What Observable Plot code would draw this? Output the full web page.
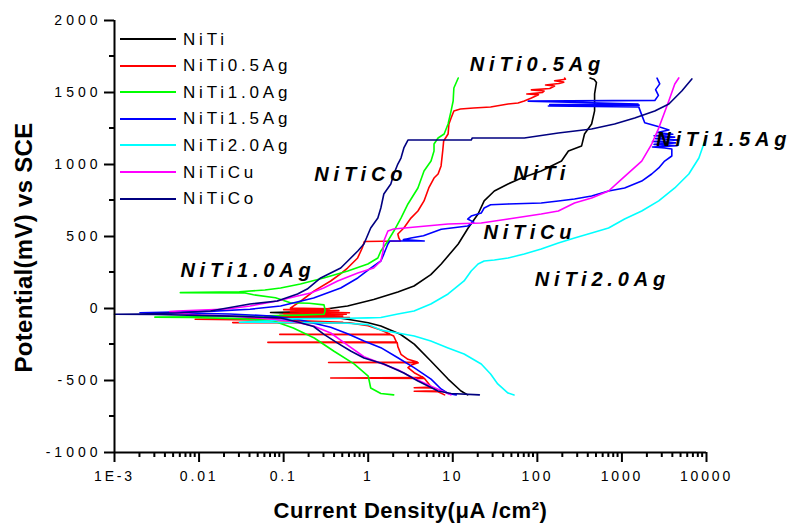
<!DOCTYPE html>
<html>
<head>
<meta charset="utf-8">
<script src="https://cdn.jsdelivr.net/npm/d3@7"></script>
<script src="https://cdn.jsdelivr.net/npm/@observablehq/plot@0.6"></script>
<style>
  html, body { margin: 0; padding: 0; background: #fff; }
  #chart { position: relative; width: 792px; height: 526px; font-family: "Liberation Sans", Arial, sans-serif; }
  #legend { position: absolute; left: 120px; top: 26px; }
  #legend .row { display: flex; align-items: center; height: 26.55px; }
  #legend .sw { width: 56px; height: 2px; margin-right: 7px; }
  #legend .lab { font-size: 17px; letter-spacing: 3.8px; color: #000; line-height: 1; }
</style>
</head>
<body>
<div id="chart"></div>
<script>
// Potentiodynamic polarization curves: [current density (µA/cm²), potential (mV vs SCE)]
// listed in scan order, from -600 mV upward.
const niti = [[15,-600],[12.5,-573],[8.8,-490],[5.5,-365],[3.5,-247],[2.4,-179],[1.41,-122],[1.0,-99],[0.57,-75],[0.3,-50],[0.15,-35],[0.07,-28],[0.12,-25],[0.2,-20],[0.3,-5],[0.57,17],[1.16,62],[2.24,115],[3.48,156],[5.5,235],[7.3,309],[11.6,448],[15.2,559],[19.9,656],[23.5,747],[31,816],[45,865],[65,906],[111,955],[193,1024],[233,1094],[333,1128],[361,1212],[438,1281],[475,1372],[475,1490],[500,1570],[470,1590],[420,1600]];

const niti05Ag = [[8,-600],[6.7,-578],[3.5,-575],[6.5,-572],[5.9,-552],[3.5,-550],[5.6,-546],[5.3,-530],[4.6,-485],[0.36,-483],[4.5,-480],[3.5,-446],[2.95,-411],[3.3,-390],[3.9,-377],[0.34,-375],[3.8,-372],[2.95,-353],[2.44,-318],[2.24,-265],[2.2,-237],[0.065,-235],[2.15,-232],[2.0,-191],[1.85,-182],[0.09,-180],[1.8,-177],[1.41,-150],[1.0,-120],[0.6,-100],[0.025,-98],[0.5,-96],[0.2,-88],[0.05,-80],[0.009,-75],[0.03,-70],[0.1,-66],[0.6,-62],[0.06,-58],[0.5,-52],[0.09,-48],[0.55,-40],[0.1,-35],[0.6,-30],[0.12,-22],[0.45,-15],[0.1,-8],[0.35,-2],[0.12,3],[0.16,52],[0.23,122],[0.36,191],[0.47,240],[0.57,281],[0.75,351],[0.85,420],[0.9,465],[2.4,469],[2.3,490],[2.24,517],[2.64,559],[3.2,628],[3.87,677],[4.57,747],[5.2,837],[6.0,906],[6.7,934],[7.27,990],[7.6,1094],[7.8,1163],[8.8,1212],[9.0,1281],[9.55,1323],[10.3,1372],[12.3,1385],[17.6,1392],[28,1399],[45,1420],[59,1427],[70,1441],[85,1462],[103,1485],[75,1490],[115,1500],[120,1510],[85,1518],[140,1528],[160,1545],[125,1552],[180,1562],[205,1572],[160,1582],[215,1592],[210,1600]];

const niti10Ag = [[2.0,-600],[1.41,-590],[1.07,-552],[1.0,-469],[0.68,-385],[0.39,-295],[0.23,-205],[0.13,-135],[0.076,-87],[0.03,-70],[0.008,-62],[0.003,-60],[0.01,-57],[0.05,-52],[0.15,-46],[0.3,-40],[0.31,-15],[0.3,25],[0.2,36],[0.12,40],[0.08,75],[0.044,95],[0.035,108],[0.006,110],[0.03,116],[0.06,128],[0.092,142],[0.158,170],[0.297,212],[0.573,260],[0.99,309],[1.3,351],[1.41,399],[1.71,469],[2.01,538],[2.44,628],[2.95,726],[3.87,837],[4.57,955],[5.53,1024],[6.0,1094],[6.0,1142],[6.7,1184],[7.9,1212],[8.8,1281],[9.55,1372],[10.1,1441],[10.3,1531],[11.6,1601]];

const niti15Ag = [[11,-600],[8.8,-590],[7.27,-559],[5.53,-490],[3.48,-411],[2.24,-342],[1.41,-272],[0.89,-226],[0.57,-175],[0.36,-130],[0.158,-80],[0.07,-52],[0.023,-38],[0.006,-31],[0.002,-30],[0.005,-25],[0.015,-18],[0.04,-5],[0.092,17],[0.226,73],[0.473,142],[0.753,212],[1.07,281],[1.41,330],[1.53,378],[1.71,448],[1.8,469],[4.6,469],[2.6,478],[3.2,490],[4.5,505],[7.3,550],[15,573],[17.7,600],[15,621],[16.5,642],[21.7,663],[23.5,698],[28,720],[45,726],[111,733],[177,747],[275,760],[438,781],[695,816],[1076,837],[1714,885],[2250,934],[2725,976],[3200,1024],[3890,1059],[3890,1108],[3200,1115],[2300,1122],[4500,1130],[2400,1140],[4300,1150],[2300,1160],[4700,1170],[2500,1180],[4200,1190],[2400,1200],[4000,1210],[2600,1222],[3600,1240],[2800,1260],[1860,1290],[1700,1350],[1580,1400],[135,1406],[1600,1412],[140,1416],[1550,1420],[78,1440],[2450,1445],[2700,1480],[2500,1520],[2800,1560],[2600,1600]];

const niti20Ag = [[53,-600],[45,-587],[34,-524],[28,-455],[21.7,-385],[13.6,-316],[8.8,-274],[5.5,-226],[3.5,-191],[2.24,-170],[1.41,-150],[1.0,-112],[0.57,-102],[0.25,-98],[0.08,-97],[0.03,-95],[0.07,-85],[0.12,-72],[0.25,-70],[0.57,-68],[1.0,-65],[1.41,-62],[2.24,-38],[3.48,-17],[5.5,31],[8.8,101],[13.6,191],[16.5,260],[19.9,309],[23.5,330],[31,337],[45,351],[70,378],[111,413],[177,455],[275,490],[438,524],[695,559],[1076,622],[1714,677],[2723,747],[4217,837],[6180,934],[8130,1045],[9550,1163]];

const nitiCu = [[9.5,-600],[8.8,-590],[5.53,-540],[3.48,-485],[2.24,-425],[1.41,-380],[0.89,-335],[0.57,-255],[0.36,-170],[0.226,-122],[0.12,-87],[0.053,-66],[0.023,-52],[0.0104,-45],[0.006,-35],[0.0045,-22],[0.0055,-17],[0.0216,-3],[0.04,17],[0.084,52],[0.146,87],[0.208,108],[0.297,142],[0.435,191],[0.753,247],[1.16,281],[1.41,330],[1.5,399],[1.53,469],[1.71,538],[2.0,552],[8.8,587],[21.7,594],[45.3,622],[111,656],[177,677],[275,733],[438,767],[695,816],[993,899],[1714,1024],[2250,1142],[2725,1253],[3580,1441],[4217,1559],[4700,1601]];

const nitiCo = [[20.6,-600],[9.55,-590],[6.7,-573],[3.87,-503],[2.64,-448],[1.53,-385],[0.89,-344],[0.62,-295],[0.435,-240],[0.3,-180],[0.226,-125],[0.15,-95],[0.092,-66],[0.03,-55],[0.01,-48],[0.003,-42],[0.001,-40],[0.002,-38],[0.006,-30],[0.0136,-17],[0.04,31],[0.084,52],[0.146,101],[0.19,135],[0.274,212],[0.473,281],[0.573,330],[0.753,399],[0.89,448],[1.07,559],[1.3,628],[1.41,698],[1.53,795],[1.85,865],[2.01,934],[2.24,1003],[2.44,1045],[2.64,1115],[2.95,1170],[16.5,1170],[17,1184],[70,1184],[177,1219],[438,1247],[818,1281],[1416,1323],[2445,1372],[3590,1420],[5100,1510],[6710,1594]];

const alloys = ["NiTi", "NiTi0.5Ag", "NiTi1.0Ag", "NiTi1.5Ag", "NiTi2.0Ag", "NiTiCu", "NiTiCo"];
const alloyColors = ["#000000", "#ff0000", "#00ff00", "#0000ff", "#00ffff", "#ff00ff", "#000080"];
const curves = [niti, niti05Ag, niti10Ag, niti15Ag, niti20Ag, nitiCu, nitiCo];

// Axis ticks and their labels
const xTicks = [1e-3, 1e-2, 1e-1, 1, 10, 100, 1000, 10000];
const xTickLabels = ["1E-3", "0.01", "0.1", "1", "10", "100", "1000", "10000"];
const yTicks = [-1000, -500, 0, 500, 1000, 1500, 2000];
const yMinorTicks = [-750, -250, 250, 750, 1250, 1750];

// Curve names written beside the curves, anchored in data units
const curveLabels = [
  {label: "NiTi0.5Ag", I: 100, E: 1691},
  {label: "NiTi1.5Ag", I: 16000, E: 1172},
  {label: "NiTiCo", I: 0.817, E: 927},
  {label: "NiTi", I: 113, E: 940},
  {label: "NiTiCu", I: 81.5, E: 524},
  {label: "NiTi1.0Ag", I: 0.0378, E: 264},
  {label: "NiTi2.0Ag", I: 587, E: 198}
];

const yTitle = "Potential(mV) vs SCE";
const xTitle = "Current Density(μA /cm²)";

// Long table for the line marks
const rows = curves.flatMap((c, k) => c.map(([I, E]) => ({alloy: alloys[k], I, E})));

const xMinorTicks = [];
for (let p = -3; p < 4; p++) for (let m = 2; m <= 9; m++) xMinorTicks.push(m * 10 ** p);
const xFmt = new Map(xTicks.map((t, i) => [t, xTickLabels[i]]));
const xMin = 1e-3;
const yMin = -1000;

const plot = Plot.plot({
  width: 792,
  height: 526,
  marginLeft: 114,
  marginRight: 86,
  marginTop: 20,
  marginBottom: 74,
  style: {fontFamily: '"Liberation Sans", Arial, sans-serif', fontSize: "14px", color: "#000", background: "#fff", overflow: "visible"},
  x: {type: "log", domain: [xMin, 1e4]},
  y: {domain: [yMin, 2000]},
  color: {domain: alloys, range: alloyColors},
  marks: [
    ...alloys.map(a => Plot.line(rows.filter(d => d.alloy === a), {x: "I", y: "E", stroke: "alloy", strokeWidth: 1.6})),
    // major ticks with labels
    Plot.axisX({ticks: xTicks, tickFormat: d => xFmt.get(d), tickSize: 10, tickPadding: 9, stroke: "black", strokeWidth: 2, label: null, fontSize: 14}),
    Plot.axisY({ticks: yTicks, tickFormat: d => String(d), tickSize: 10, tickPadding: 3, stroke: "black", strokeWidth: 2, label: null, fontSize: 14}),
    Plot.ruleX([xMin], {strokeWidth: 2}),
    Plot.ruleY([yMin], {strokeWidth: 2}),
    Plot.text(curveLabels, {x: "I", y: "E", text: "label", fontSize: 20, fontWeight: "bold", fontStyle: "italic"}),
    Plot.text([yTitle], {text: d => d, frameAnchor: "left", textAnchor: "middle", lineAnchor: "middle", rotate: -90, dx: -90, dy: 11, fontSize: 24, fontWeight: "bold"}),
    Plot.text([xTitle], {text: d => d, frameAnchor: "bottom", textAnchor: "middle", lineAnchor: "middle", dy: 58, fontSize: 22, fontWeight: "bold"})
  ]
});

// minor ticks, placed with the plot's own x and y scales
const sx = plot.scale("x");
const sy = plot.scale("y");
const minor = d3.select(plot).append("g")
  .attr("aria-label", "minor ticks")
  .attr("stroke", "#000")
  .attr("stroke-width", 2);
minor.selectAll(".mx").data(xMinorTicks).join("line").attr("class", "mx")
  .attr("x1", d => sx.apply(d)).attr("x2", d => sx.apply(d))
  .attr("y1", sy.apply(yMin)).attr("y2", sy.apply(yMin) + 5);
minor.selectAll(".my").data(yMinorTicks).join("line").attr("class", "my")
  .attr("y1", d => sy.apply(d)).attr("y2", d => sy.apply(d))
  .attr("x1", sx.apply(xMin) - 5).attr("x2", sx.apply(xMin));

// letter spacing for the wide-set lettering
const s = d3.select(plot);
s.selectAll('g[aria-label="y-axis tick label"] text').style("letter-spacing", "4px");
s.selectAll('g[aria-label="x-axis tick label"] text').style("letter-spacing", "2.8px");
const textGroups = s.selectAll('g[aria-label="text"]').nodes();
if (textGroups[0]) d3.select(textGroups[0]).selectAll("text").style("letter-spacing", "4.8px");
if (textGroups[1]) d3.select(textGroups[1]).selectAll("text").style("letter-spacing", "0.3px");
if (textGroups[2]) d3.select(textGroups[2]).selectAll("text").style("letter-spacing", "0.6px");

const chart = document.getElementById("chart");
chart.appendChild(plot);

// legend drawn inside the plotting area, top left
const legend = document.createElement("div");
legend.id = "legend";
alloys.forEach((a, i) => {
  const row = document.createElement("div");
  row.className = "row";
  const sw = document.createElement("div");
  sw.className = "sw";
  sw.style.background = alloyColors[i];
  const lab = document.createElement("span");
  lab.className = "lab";
  lab.textContent = a;
  row.append(sw, lab);
  legend.appendChild(row);
});
chart.appendChild(legend);
</script>
</body>
</html>
